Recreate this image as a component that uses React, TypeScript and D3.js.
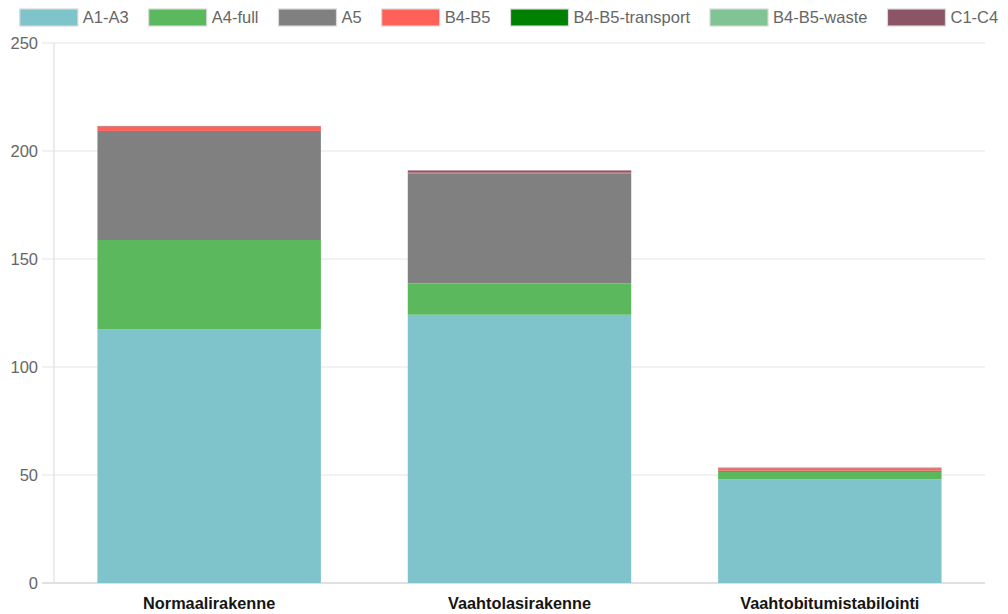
import React, { useEffect, useRef } from "react";
import * as d3 from "d3";

const categories = ["Normaalirakenne", "Vaahtolasirakenne", "Vaahtobitumistabilointi"];
const seriesNames = ["A1-A3", "A4-full", "A5", "B4-B5", "B4-B5-transport", "B4-B5-waste", "C1-C4"];
const seriesColors = ["#7fc3cb", "#5cb85c", "#808080", "#ff6158", "#008000", "#80c394", "#8c5566"];
const a1a3 = [117.5, 124.2, 48.0];
const a4full = [41.3, 14.5, 3.4];
const a5 = [50.5, 51.0, 0.6];
const b4b5 = [2.1, 0.3, 1.1];
const b4b5Transport = [0, 0, 0];
const b4b5Waste = [0, 0, 0];
const c1c4 = [0.2, 1.0, 0.3];
const yTicks = [0, 50, 100, 150, 200, 250];

const W = 1008;
const H = 614;
const FONT = "'Liberation Sans', Arial, sans-serif";

export default function App() {
  const ref = useRef<SVGSVGElement | null>(null);

  useEffect(() => {
    document.body.style.margin = "0";
    const svg = d3.select(ref.current);
    svg.selectAll("*").remove();

    const values = [a1a3, a4full, a5, b4b5, b4b5Transport, b4b5Waste, c1c4];
    const rows = categories.map((c, i) => {
      const r: Record<string, number | string> = { cat: c };
      seriesNames.forEach((s, k) => (r[s] = values[k][i]));
      return r;
    });
    const stacked = d3.stack<any>().keys(seriesNames)(rows as any);

    const left = 54, right = 985, top = 43, bottom = 583;
    const x = d3.scaleBand().domain(categories).range([left, right]).paddingInner(0).paddingOuter(0);
    const y = d3.scaleLinear().domain([0, 250]).range([bottom, top]);
    const barW = x.bandwidth() * 0.72;

    // grid
    const g = svg.append("g");
    g.selectAll("line.grid")
      .data(yTicks)
      .join("line")
      .attr("x1", left - 12)
      .attr("x2", right)
      .attr("y1", (d) => y(d))
      .attr("y2", (d) => y(d))
      .attr("stroke", (d) => (d === 0 ? "#c4c4c4" : "#e6e6e6"))
      .attr("stroke-width", 1.2);
    g.append("line")
      .attr("x1", left).attr("x2", left)
      .attr("y1", top).attr("y2", bottom + 1)
      .attr("stroke", "#e0e0e0").attr("stroke-width", 1.2);

    g.selectAll("text.ytick")
      .data(yTicks)
      .join("text")
      .attr("x", 38)
      .attr("y", (d) => y(d))
      .attr("dy", "0.35em")
      .attr("text-anchor", "end")
      .attr("font-family", FONT)
      .attr("font-size", 16.5)
      .attr("fill", "#666")
      .text((d) => String(d));

    // bars
    stacked.forEach((layer, k) => {
      svg.append("g")
        .selectAll("rect")
        .data(layer)
        .join("rect")
        .attr("x", (d: any) => (x(d.data.cat as string) as number) + (x.bandwidth() - barW) / 2)
        .attr("width", barW)
        .attr("y", (d: any) => y(d[1]))
        .attr("height", (d: any) => Math.max(0, y(d[0]) - y(d[1])))
        .attr("fill", seriesColors[k]);
    });

    // x labels
    svg.append("g")
      .selectAll("text")
      .data(categories)
      .join("text")
      .attr("x", (d) => (x(d) as number) + x.bandwidth() / 2)
      .attr("y", 609)
      .attr("text-anchor", "middle")
      .attr("font-family", FONT)
      .attr("font-size", 16.3)
      .attr("font-weight", "bold")
      .attr("fill", "#151515")
      .text((d) => d);

    // legend
    const boxW = 58, boxH = 17, fs = 16.5, gap = 20, textGap = 5;
    const lg = svg.append("g");
    const items = seriesNames.map((s, k) => {
      const ig = lg.append("g");
      ig.append("rect")
        .attr("width", boxW).attr("height", boxH)
        .attr("y", 9)
        .attr("fill", seriesColors[k])
        .attr("stroke", "#d8d8d8").attr("stroke-width", 1.2);
      const t = ig.append("text")
        .attr("x", boxW + textGap)
        .attr("y", 9 + boxH / 2)
        .attr("dy", "0.35em")
        .attr("font-family", FONT)
        .attr("font-size", fs)
        .attr("fill", "#666")
        .text(s);
      const tw = (t.node() as SVGTextElement).getComputedTextLength();
      return { ig, w: boxW + textGap + tw };
    });
    const total = items.reduce((a, b) => a + b.w, 0) + gap * (items.length - 1);
    let cx = 509 - total / 2;
    items.forEach((it) => {
      it.ig.attr("transform", `translate(${cx},0)`);
      cx += it.w + gap;
    });
  }, []);

  return <svg ref={ref} width={W} height={H} style={{ display: "block", background: "#fff" }} />;
}
